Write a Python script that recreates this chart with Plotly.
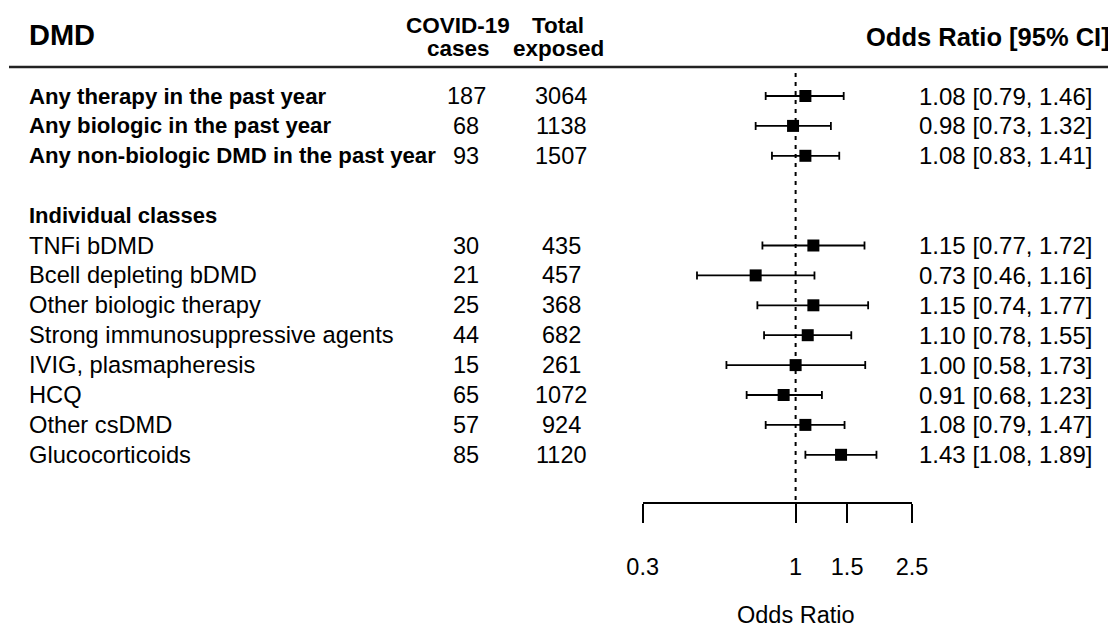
import plotly.graph_objects as go
import numpy as np

# ---- data ----
labels = ["Any therapy in the past year", "Any biologic in the past year",
          "Any non-biologic DMD in the past year", "TNFi bDMD", "Bcell depleting bDMD",
          "Other biologic therapy", "Strong immunosuppressive agents",
          "IVIG, plasmapheresis", "HCQ", "Other csDMD", "Glucocorticoids"]
bold_flags = [True, True, True, False, False, False, False, False, False, False, False]
rows = [0, 1, 2, 5, 6, 7, 8, 9, 10, 11, 12]
cases = [187, 68, 93, 30, 21, 25, 44, 15, 65, 57, 85]
exposed = [3064, 1138, 1507, 435, 457, 368, 682, 261, 1072, 924, 1120]
odds = [1.08, 0.98, 1.08, 1.15, 0.73, 1.15, 1.10, 1.00, 0.91, 1.08, 1.43]
lower = [0.79, 0.73, 0.83, 0.77, 0.46, 0.74, 0.78, 0.58, 0.68, 0.79, 1.08]
upper = [1.46, 1.32, 1.41, 1.72, 1.16, 1.77, 1.55, 1.73, 1.23, 1.47, 1.89]
subheading = "Individual classes"
subheading_row = 4
tick_vals = [0.3, 1, 1.5, 2.5]
tick_text = ["0.3", "1", "1.5", "2.5"]

# the page body adds an 8px margin, so the figure is sized to fill the rest
OFF = 8
W, H = 1116 - OFF, 633 - OFF
FONT = "Liberation Sans, Arial, sans-serif"
ROW0_PX, ROW_STEP = 96.0, 29.9


def row_of(py):
    """screen pixel y -> row coordinate"""
    return (py - ROW0_PX) / ROW_STEP


def px_x(px):
    """screen pixel x -> paper x"""
    return (px - OFF) / W


odds_a = np.array(odds)
err_plus = np.array(upper) - odds_a
err_minus = odds_a - np.array(lower)

fig = go.Figure()
fig.add_trace(go.Scatter(
    x=odds, y=rows, mode="markers",
    marker=dict(symbol="square", size=12, color="black"),
    error_x=dict(type="data", symmetric=False, array=err_plus, arrayminus=err_minus,
                 color="black", thickness=1.8, width=4),
    cliponaxis=False, showlegend=False, hoverinfo="skip"))

ann = []
ann.append(dict(x=px_x(27), y=row_of(35), xref="paper", yref="y", text="<b>DMD</b>",
                xanchor="left", yanchor="middle", showarrow=False,
                font=dict(size=29, family=FONT, color="black")))
for txt, cx in [("COVID-19", 458), ("Total", 558)]:
    ann.append(dict(x=px_x(cx), y=row_of(25), xref="paper", yref="y", text=f"<b>{txt}</b>",
                    xanchor="center", yanchor="middle", showarrow=False,
                    font=dict(size=22.5, family=FONT, color="black")))
for txt, cx in [("cases", 458), ("exposed", 558)]:
    ann.append(dict(x=px_x(cx), y=row_of(48), xref="paper", yref="y", text=f"<b>{txt}</b>",
                    xanchor="center", yanchor="middle", showarrow=False,
                    font=dict(size=22.5, family=FONT, color="black")))
ann.append(dict(x=px_x(1112), y=row_of(37), xref="paper", yref="y",
                text="<b>Odds Ratio [95% CI]</b>", xanchor="right", yanchor="middle",
                showarrow=False, font=dict(size=25.5, family=FONT, color="black")))
ann.append(dict(x=px_x(27), y=subheading_row, xref="paper", yref="y",
                text=f"<b>{subheading}</b>", xanchor="left", yanchor="middle",
                showarrow=False, font=dict(size=22, family=FONT, color="black")))
for lab, b, r, c, e, o, lo, hi in zip(labels, bold_flags, rows, cases, exposed,
                                      odds, lower, upper):
    ann.append(dict(x=px_x(27), y=r, xref="paper", yref="y",
                    text=f"<b>{lab}</b>" if b else lab, xanchor="left", yanchor="middle",
                    showarrow=False,
                    font=dict(size=22.2 if b else 23.7, family=FONT, color="black")))
    ann.append(dict(x=px_x(466), y=r, xref="paper", yref="y", text=str(c),
                    xanchor="center", yanchor="middle", showarrow=False,
                    font=dict(size=23.5, family=FONT, color="black")))
    ann.append(dict(x=px_x(561), y=r, xref="paper", yref="y", text=str(e),
                    xanchor="center", yanchor="middle", showarrow=False,
                    font=dict(size=23.5, family=FONT, color="black")))
    ann.append(dict(x=px_x(1094), y=r, xref="paper", yref="y",
                    text=f"{o:.2f} [{lo:.2f}, {hi:.2f}]", xanchor="right",
                    yanchor="middle", showarrow=False,
                    font=dict(size=24, family=FONT, color="black")))
# axis title (annotation x on a log axis is given in log10 units: log10(1) = 0)
ann.append(dict(x=0, y=row_of(615), xref="x", yref="y", text="Odds Ratio",
                xanchor="center", yanchor="middle", showarrow=False,
                font=dict(size=23.5, family=FONT, color="black")))

shapes = [
    dict(type="line", xref="paper", yref="y", x0=px_x(9), x1=1, y0=row_of(67),
         y1=row_of(67), line=dict(color="#222", width=2.5)),
    dict(type="line", xref="x", yref="y", x0=1, x1=1, y0=row_of(73), y1=row_of(503),
         line=dict(color="black", width=2, dash="4px,5px")),
]

fig.update_layout(
    width=W, height=H, margin=dict(l=0, r=0, t=0, b=0, autoexpand=False),
    paper_bgcolor="white", plot_bgcolor="white",
    annotations=ann, shapes=shapes,
    xaxis=dict(type="log", domain=[px_x(642.7), px_x(912)],
               range=[np.log10(0.3), np.log10(2.5)],
               anchor="free", position=1 - (503 - OFF) / H,
               showline=True, linecolor="black", linewidth=2,
               ticks="outside", ticklen=19, tickwidth=2, tickcolor="black",
               tickvals=tick_vals, ticktext=tick_text, ticklabelstandoff=24,
               tickfont=dict(size=23.5, family=FONT, color="black"),
               showgrid=False, zeroline=False, fixedrange=True),
    yaxis=dict(range=[row_of(633), row_of(OFF)], domain=[0, 1], visible=False,
               showgrid=False, zeroline=False, fixedrange=True),
)

fig.write_html("out.html")
